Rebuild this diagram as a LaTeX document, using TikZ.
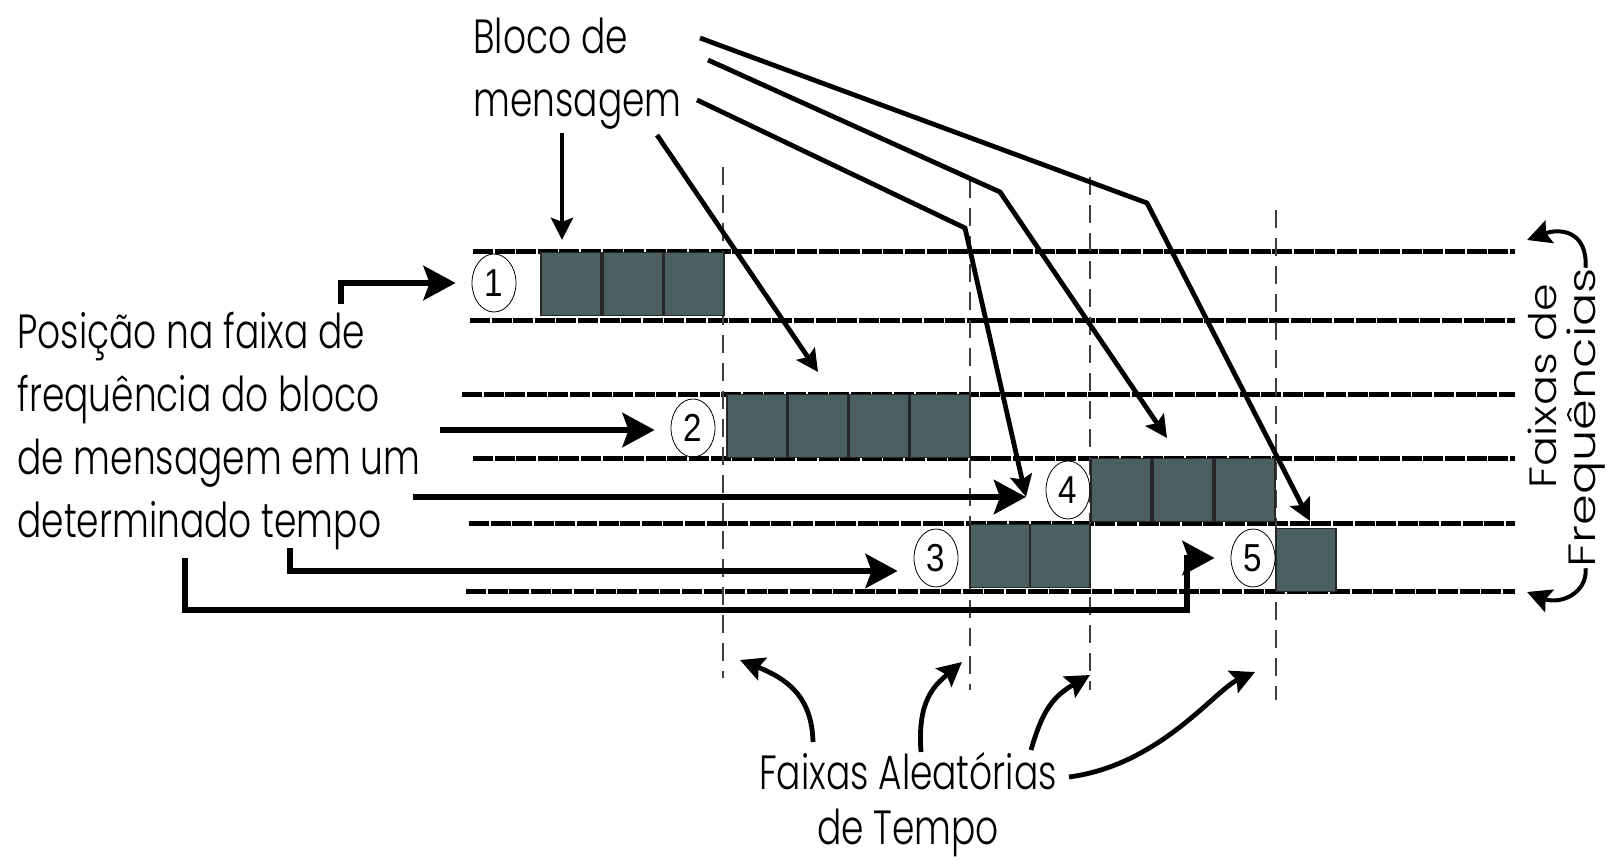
\documentclass[tikz,border=0pt]{standalone}
\usepackage{fontspec}
\setmainfont{Poppins}[UprightFont=* Light,FakeStretch=0.75]
\newfontfamily\sidefont{Poppins}[UprightFont=* Light,FakeStretch=1.3]
\newfontfamily\sidefontb{Poppins}[UprightFont=* Light,FakeStretch=1.17]
\newfontfamily\numfont{Liberation Sans}[FakeStretch=0.85]
\usepackage{xcolor}
\usepackage{tikz}
\usetikzlibrary{arrows.meta,shapes.geometric}
\definecolor{blockgray}{RGB}{75,95,97}

\begin{document}
\begin{tikzpicture}[x=0.5pt,y=-0.5pt,
    band/.style={line width=2.5pt,dash pattern=on 10pt off 0.8pt},
    slot/.style={line width=0.9pt,black!75,dash pattern=on 9pt off 5pt},
    sq/.style={draw=black!85,line width=0.6pt,fill=blockgray,
        minimum width=30pt,minimum height=31.5pt,inner sep=0pt},
    num/.style={ellipse,draw,line width=0.4pt,minimum width=22pt,
        minimum height=29pt,inner sep=0pt,
        font=\numfont\fontsize{19.5}{20}\selectfont},
    txt/.style={inner sep=0pt,align=left,font=\fontsize{24}{31.5}\selectfont},
    side/.style={inner sep=0pt,rotate=90,anchor=base,
        font=\sidefont\fontsize{19}{20}\selectfont},
    big/.style={line width=3.3pt,-{Stealth[length=16pt,width=17pt,inset=3pt]},
        shorten >=8pt},
    lead/.style={line width=2.4pt,-{Stealth[length=11pt,width=11pt,inset=2pt]}},
    wavy/.style={line width=2.4pt,-{Stealth[length=12pt,width=12pt,inset=2pt]}}]

\useasboundingbox (0,0) rectangle (1607,860);

% faixas de frequencia
\foreach \y/\xl in {252/473,321/470,395/462,459/473,524/469,592/466}
    \draw[band] (\xl,\y) -- (1515,\y);

% faixas de tempo
\foreach \x/\ya/\yb in {723/167/678,970/180/690,1090/177/690,1276/210/700}
    \draw[slot] (\x,\ya) -- (\x,\yb);

% blocos de mensagem
\foreach \n/\x/\y in {b11/571/284,b12/633/284,b13/694/284,
        b21/757/426,b22/818/426,b23/879/426,b24/940/426,
        b41/1121/490,b42/1183/490,b43/1245/490,
        b31/1000/556,b32/1060/556,b51/1306/560}
    \node[sq] (\n) at (\x,\y) {};

\node[num] (n1) at (494,283) {1};
\node[num] (n2) at (693,428) {2};
\node[num] (n3) at (936,558) {3};
\node[num] (n4) at (1068,490) {4};
\node[num] (n5) at (1253,558) {5};

% textos (base = ultima linha)
\node[txt,anchor=base west] (bloco) at (473,117) {Bloco de\\mensagem};
\node[txt,anchor=base west] (posicao) at (17,538)
    {Posição na faixa de\\frequência do bloco\\de mensagem em um\\determinado tempo};
\node[txt,align=center,anchor=base] (aleat) at (908,844)
    {Faixas Aleatórias\\[-4pt]de Tempo};
\node[side,font=\sidefontb\fontsize{19}{20}\selectfont] (faixasde) at (1556,386) {Faixas de};
\node[side] (frequencias) at (1595,418) {Frequências};

% setas do bloco
\coordinate (s1) at (562,133);
\coordinate (s2) at (657,135);
\coordinate (e2) at (818,372);
\coordinate (s3) at (697,100);
\coordinate (k3) at (965,228);
\coordinate (m4) at (1026,497);
\coordinate (s4) at (708,60);
\coordinate (k4) at (1000,192);
\coordinate (e4) at (1167,438);
\coordinate (s5) at (700,38);
\coordinate (k5) at (1147,203);
\coordinate (e5) at (1310,521);

\draw[lead,shorten >=6pt] (s1) -- (s1 |- b11.north);
\draw[lead] (s2) -- (e2);
\draw[lead] (s3) -- (k3) -- (m4);
\draw[lead] (s4) -- (k4) -- (e4);
\draw[lead] (s5) -- (k5) -- (e5);

% setas da posicao
\coordinate (p1) at (341,304);
\coordinate (p2) at (440,430);
\coordinate (p3) at (290,548);
\coordinate (p4) at (413,497);
\coordinate (p5) at (185,558);
\coordinate (q5) at (1187,610);

\draw[big] (p1) |- (n1.west);
\draw[big] (p2) -- (p2 -| n2.west);
\draw[big] (p3) |- ([yshift=-6.5pt]n3.west);
\draw[big,shorten >=0pt] (p4) -- (m4);
\draw[big] (p5) |- (q5) |- (n5.west);

% setas do tempo
\coordinate (wa) at (813,742);
\coordinate (wb) at (921,752);
\coordinate (wc) at (1031,750);
\coordinate (wd) at (1069,777);
\coordinate (ta) at (740,660);
\coordinate (tb) at (962,662);
\coordinate (tc) at (1090,675);
\coordinate (td) at (1255,672);

\draw[wavy] (wa) .. controls +(-1,-47) and +(45,18) .. (ta);
\draw[wavy] (wb) .. controls +(-4,-52) and +(-27,23) .. (tb);
\draw[wavy] (wc) .. controls +(11,-38) and +(-38,22) .. (tc);
\draw[wavy] (wd) .. controls +(91,-12) and +(-40,18) .. (td);

% setas da frequencia
\coordinate (ftop) at (1527,240);
\coordinate (fbot) at (1527,592);

\draw[wavy,line width=2pt] (frequencias.east) .. controls +(2,-37) and +(33,-12) .. (ftop);
\draw[wavy,line width=2pt] (frequencias.west) .. controls +(2,25) and +(33,13) .. (fbot);

\end{tikzpicture}
\end{document}
